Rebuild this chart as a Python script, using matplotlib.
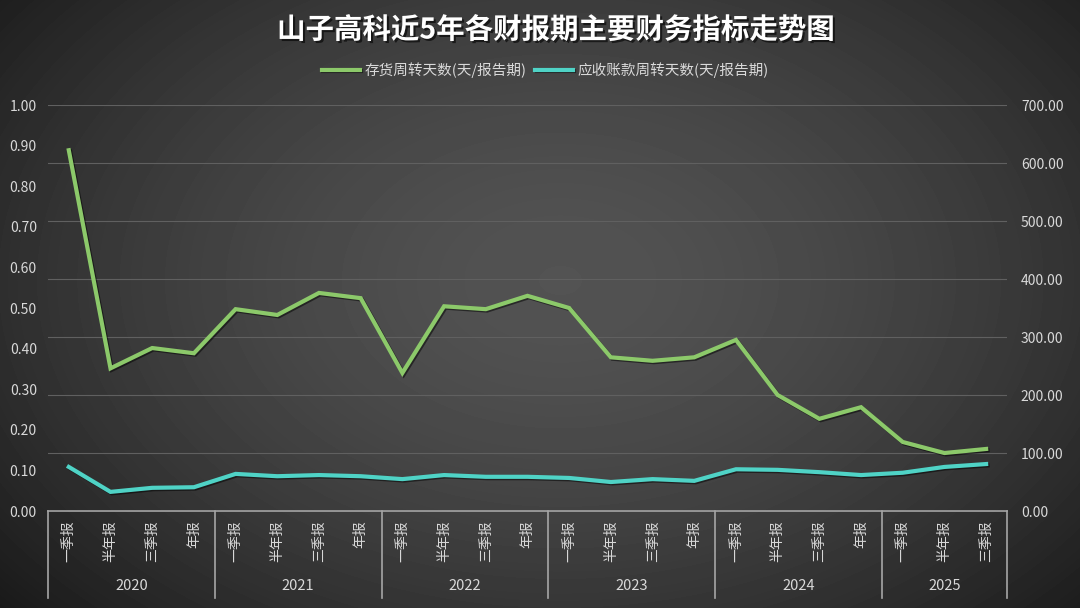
import numpy as np
import matplotlib.pyplot as plt
import matplotlib.patheffects as pe

plt.rcParams['font.family'] = ['Noto Sans CJK SC', 'DejaVu Sans']

years = ['2020', '2021', '2022', '2023', '2024', '2025']
quarters = ['一季报', '半年报', '三季报', '年报'] * 5 + ['一季报', '半年报', '三季报']
inventory_days = [622, 246, 281, 272, 348, 338, 376, 367,
                  238, 353, 348, 371, 350, 265, 259, 265,
                  295, 200, 159, 179, 119, 100, 107]
receivable_days = [76, 33, 40, 41, 64, 60, 62, 60,
                   55, 62, 59, 59, 57, 50, 55, 52,
                   72, 71, 67, 62, 66, 76, 81]
n_per_year = [4, 4, 4, 4, 4, 3]

txt = '#d9d9d9'

fig = plt.figure(figsize=(10.8, 6.08), dpi=100)

# dark radial background, flat-ish middle
bg = fig.add_axes([0, 0, 1, 1])
bg.axis('off')
yy, xx = np.mgrid[0:608, 0:1080]
d = np.sqrt(((xx - 560) / 620) ** 2 + ((yy - 280) / 420) ** 2)
shade = np.clip(0.325 - 0.17 * d ** 1.6, 0.1, 1)
bg.imshow(shade, cmap='gray', vmin=0, vmax=1, aspect='auto', extent=[0, 1, 0, 1])

ax = fig.add_axes([0.0444, 0.1595, 0.888, 0.6678])
ax.patch.set_alpha(0)
ax2 = ax.twinx()

x = np.arange(len(quarters))
shadow = [pe.SimpleLineShadow(offset=(1, -1), shadow_color='black', alpha=0.5), pe.Normal()]
l1, = ax2.plot(x, inventory_days, color='#8cc96a', lw=3, label='存货周转天数(天/报告期)',
               solid_joinstyle='miter', path_effects=shadow, zorder=3)
l2, = ax2.plot(x, receivable_days, color='#4fd3c6', lw=3, label='应收账款周转天数(天/报告期)',
               solid_joinstyle='miter', path_effects=shadow, zorder=3)

ax.set_xlim(-0.5, len(quarters) - 0.5)
ax.set_ylim(0, 1)
ax.set_yticks(np.arange(0, 1.01, 0.1))
ax.set_yticklabels([f'{v:.2f}' for v in np.arange(0, 1.01, 0.1)])
ax2.set_ylim(0, 700)
ax2.set_yticks(range(0, 701, 100))
ax2.set_yticklabels([f'{v:.2f}' for v in range(0, 701, 100)])
ax2.grid(axis='y', color='#606060', lw=0.8)
ax2.set_axisbelow(True)

for a in (ax, ax2):
    for s in a.spines.values():
        s.set_visible(False)
    a.tick_params(axis='y', length=0, colors=txt, labelsize=10)
ax.tick_params(axis='y', pad=8)
ax2.tick_params(axis='y', pad=10)

ax.set_xticks(x)
ax.set_xticklabels(quarters, rotation=90, va='top', color=txt, fontsize=10)
ax.tick_params(axis='x', length=0, pad=7)

# category axis: baseline, year separators and year labels
tr = ax.get_xaxis_transform()
ax.plot([-0.5, len(quarters) - 0.5], [0, 0], color='#a6a6a6', lw=1.2, transform=tr, clip_on=False)
start = -0.5
for yr, n in zip(years, n_per_year):
    ax.plot([start, start], [0, -0.215], color='#a6a6a6', lw=1.2, transform=tr, clip_on=False)
    ax.text(start + n / 2, -0.184, yr, transform=tr, ha='center', va='center',
            color=txt, fontsize=10.5)
    start += n
ax.plot([start, start], [0, -0.215], color='#a6a6a6', lw=1.2, transform=tr, clip_on=False)

fig.text(0.515, 0.95, '山子高科近5年各财报期主要财务指标走势图', ha='center', va='center',
         color='white', fontsize=20.5, fontweight='bold',
         path_effects=[pe.withSimplePatchShadow(offset=(1.5, -1.5), shadow_rgbFace='black', alpha=0.6)])

leg = fig.legend(handles=[l1, l2], loc='center', bbox_to_anchor=(0.505, 1 - 70 / 608), ncol=2,
                 frameon=False, fontsize=10.5, handlelength=2.6, columnspacing=0.6,
                 handletextpad=0.3, labelcolor=txt)

fig.savefig('out.png', dpi=100)
